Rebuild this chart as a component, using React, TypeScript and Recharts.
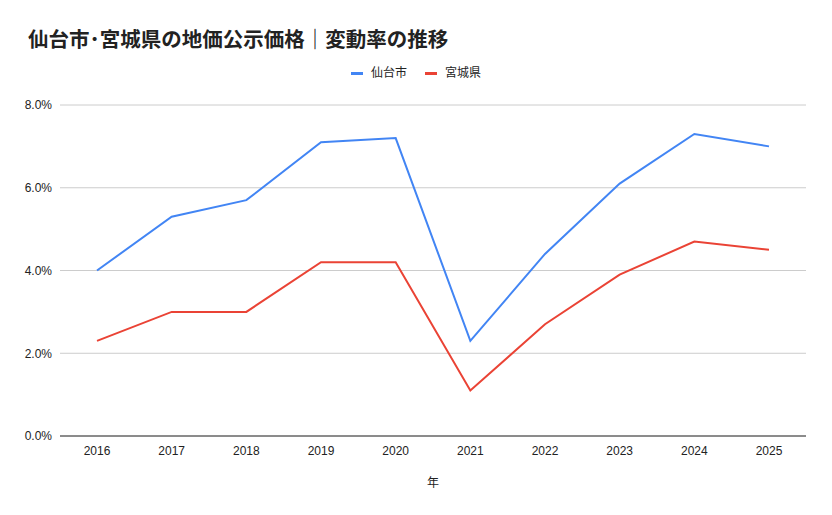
import React from 'react';
import { LineChart, Line, XAxis, YAxis, CartesianGrid } from 'recharts';

const years = ['2016', '2017', '2018', '2019', '2020', '2021', '2022', '2023', '2024', '2025'];
const sendai = [4.0, 5.3, 5.7, 7.1, 7.2, 2.3, 4.4, 6.1, 7.3, 7.0];
const miyagi = [2.3, 3.0, 3.0, 4.2, 4.2, 1.1, 2.7, 3.9, 4.7, 4.5];
const yTicks = [0, 2, 4, 6, 8];

const seriesInfo = [
    { key: 'sendai', name: '仙台市', color: '#4285F4' },
    { key: 'miyagi', name: '宮城県', color: '#EA4335' },
];

const data = years.map((year, i) => ({ year, sendai: sendai[i], miyagi: miyagi[i] }));

const FONT = "Arial, 'Liberation Sans', 'Noto Sans CJK JP', sans-serif";
const TITLE_FONT = "'Noto Sans CJK JP', Roboto, sans-serif";

const App: React.FC = () => {
    return (
        <div style={{ position: 'relative', width: 832, height: 515, background: '#fff' }}>
            <style>{'body{margin:0}'}</style>
            <div style={{ position: 'absolute', left: 28, top: 23, fontFamily: TITLE_FONT, fontSize: 20.5, fontWeight: 'bold', color: '#222', whiteSpace: 'nowrap', lineHeight: '30px' }}>
                仙台市･宮城県の地価公示価格｜変動率の推移
            </div>
            <div style={{ position: 'absolute', left: 0, top: 65, width: 832, display: 'flex', justifyContent: 'center', alignItems: 'center', fontFamily: FONT, fontSize: 12, color: '#222', lineHeight: '16px' }}>
                {seriesInfo.map((s) => (
                    <div key={s.key} style={{ display: 'flex', alignItems: 'center', margin: '0 9px' }}>
                        <span style={{ width: 12, height: 3, background: s.color, display: 'inline-block', marginRight: 8 }} />
                        <span>{s.name}</span>
                    </div>
                ))}
            </div>
            <LineChart width={832} height={515} data={data} margin={{ top: 105, right: 26, bottom: 20, left: 0 }}>
                <CartesianGrid vertical={false} stroke="#cccccc" />
                <XAxis
                    dataKey="year"
                    padding={{ left: 37, right: 37 }}
                    tickLine={false}
                    axisLine={{ stroke: '#333333' }}
                    tick={{ fontFamily: FONT, fontSize: 12, fill: '#222' }}
                    tickMargin={4}
                    height={59}
                    label={{ value: '年', position: 'insideBottom', offset: 8, style: { fontFamily: FONT, fontSize: 12, fill: '#222' } }}
                />
                <YAxis
                    width={60}
                    domain={[0, 8]}
                    ticks={yTicks}
                    tickFormatter={(v: number) => `${v.toFixed(1)}%`}
                    tickLine={false}
                    axisLine={false}
                    tick={{ fontFamily: FONT, fontSize: 12, fill: '#222' }}
                />
                {seriesInfo.map((s) => (
                    <Line
                        key={s.key}
                        type="linear"
                        dataKey={s.key}
                        name={s.name}
                        stroke={s.color}
                        strokeWidth={2}
                        dot={false}
                        isAnimationActive={false}
                    />
                ))}
            </LineChart>
        </div>
    );
};

export default App;
